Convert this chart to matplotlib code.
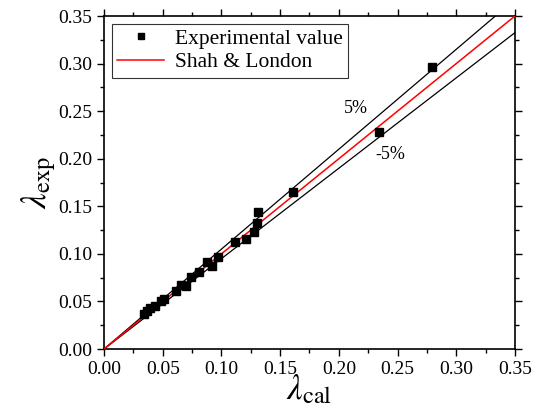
import numpy as np
import matplotlib.pyplot as plt
from matplotlib.ticker import MultipleLocator

plt.rcParams['font.family'] = ['Liberation Serif', 'DejaVu Serif']
plt.rcParams['mathtext.fontset'] = 'stix'

lam_cal = [0.0337, 0.0365, 0.0393, 0.0435, 0.0484, 0.0507, 0.0612, 0.0654,
           0.0697, 0.0745, 0.0805, 0.0876, 0.0924, 0.0967, 0.1115, 0.1209,
           0.1277, 0.1300, 0.1314, 0.1610, 0.2343, 0.2796]
lam_exp = [0.0365, 0.0399, 0.0428, 0.0452, 0.0508, 0.0526, 0.0610, 0.0673,
           0.0662, 0.0753, 0.0806, 0.0918, 0.0876, 0.0970, 0.1121, 0.1153,
           0.1233, 0.1328, 0.1437, 0.1655, 0.2278, 0.2967]

# reference line and +/- 5 % bands
line_x = [0.0, 0.35]
band_factors = [1.05, 0.95]
band_labels = ['5%', '-5%']
band_label_pos = [(0.2144, 0.253), (0.244, 0.204)]

fig = plt.figure(figsize=(5.4, 4.16), dpi=100)
ax = fig.add_axes([0.1926, 0.161, 0.761, 0.8005])

for f in band_factors:
    ax.plot(line_x, [f * v for v in line_x], color='black', lw=0.9, zorder=2)
red, = ax.plot(line_x, line_x, color='red', lw=1.1, label='Shah & London', zorder=3)
pts, = ax.plot(lam_cal, lam_exp, 's', color='black', ms=5.5, ls='none',
               label='Experimental value', zorder=4)

for txt, (tx, ty) in zip(band_labels, band_label_pos):
    ax.text(tx, ty, txt, fontsize=13, ha='center', va='center')

ax.set_xlim(0, 0.35)
ax.set_ylim(0, 0.35)
ax.xaxis.set_major_locator(MultipleLocator(0.05))
ax.yaxis.set_major_locator(MultipleLocator(0.05))
ax.xaxis.set_minor_locator(MultipleLocator(0.025))
ax.yaxis.set_minor_locator(MultipleLocator(0.025))
ax.xaxis.set_major_formatter(plt.FormatStrFormatter('%.2f'))
ax.yaxis.set_major_formatter(plt.FormatStrFormatter('%.2f'))
ax.tick_params(which='both', direction='out', top=True, right=True,
               labelsize=14, width=1, labeltop=False, labelright=False)
ax.tick_params(which='major', length=5)
ax.tick_params(which='minor', length=3)
for sp in ax.spines.values():
    sp.set_linewidth(1.2)

ax.set_xlabel(r'$\lambda_{\mathrm{cal}}$', fontsize=25, labelpad=-3)
ax.set_ylabel(r'$\lambda_{\mathrm{exp}}$', fontsize=25, labelpad=0)

leg = ax.legend(handles=[pts, red], loc='upper left',
                fontsize=15.5, frameon=True, fancybox=False, edgecolor='black',
                borderaxespad=0.35, handlelength=2.2, borderpad=0.25,
                labelspacing=0.15, handletextpad=0.5, markerscale=0.85)
leg.get_frame().set_linewidth(0.8)

fig.savefig('out.png', dpi=100)
